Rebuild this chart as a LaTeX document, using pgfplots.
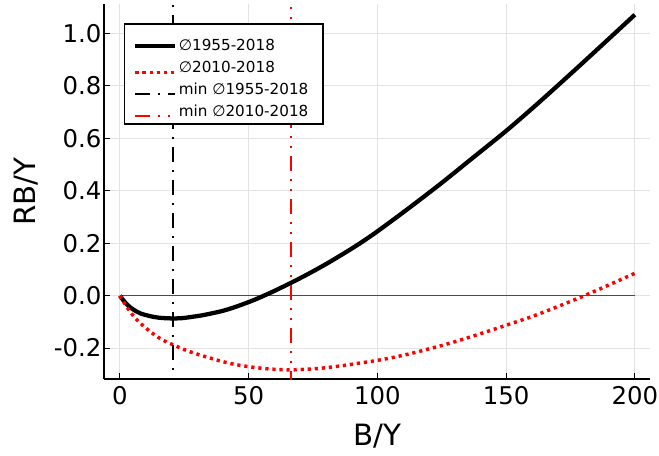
\documentclass[border=0pt]{standalone}
\usepackage{fontspec}
\setmainfont{DejaVu Sans}
\usepackage{pgfplots}
\pgfplotsset{compat=1.18}
\begin{document}
\begin{tikzpicture}
\begin{axis}[
  scale only axis, width=409.5pt, height=281.25pt,
  xmin=-6.2, xmax=205.9, ymin=-0.318, ymax=1.112,
  axis x line*=bottom, axis y line*=left,
  axis line style={line width=1.5pt, black},
  tick align=inside, major tick length=4.5pt,
  tick style={line width=0.8pt, black},
  xtick={0,50,100,150,200},
  ytick={-0.2,0,0.2,0.4,0.6,0.8,1.0},
  grid=major, grid style={line width=0.75pt, black!11},
  /pgf/number format/assume math mode=true,
  yticklabel style={/pgf/number format/fixed, /pgf/number format/precision=1, /pgf/number format/fixed zerofill, xshift=1.6pt},
  xticklabel style={yshift=-2.1pt},
  ticklabel style={font=\fontsize{18.3}{20}\selectfont},
  label style={font=\fontsize{22}{24}\selectfont},
  xlabel={B/Y}, ylabel={RB/Y},
  xlabel style={at={(axis description cs:0.5,-0.152)}, anchor=center},
  ylabel style={at={(axis description cs:-0.1429,0.5)}, anchor=center, rotate=0},
  legend image code/.code={\draw[#1] (0pt,-3.5pt) -- (30pt,-3.5pt);},
  legend cell align=left,
  legend style={at={(axis description cs:0.0366,0.949)}, anchor=north west,
    draw=black, line width=1.1pt, font=\fontsize{11.4}{13}\selectfont,
    inner xsep=6.4pt, inner ysep=4.4pt, row sep=6.2pt,
    nodes={inner sep=0pt},
    /tikz/every odd column/.append style={column sep=1pt}},
]
\addplot[black!70, line width=0.75pt, forget plot] coordinates {(0,0) (200,0)};
\addplot[black, line width=3.2pt, smooth] coordinates {
(0,0) (1,-0.014) (2,-0.026) (3,-0.036) (4,-0.045) (6,-0.058) (8,-0.068) (10,-0.074)
(12.5,-0.080) (15,-0.084) (17.5,-0.086) (20.5,-0.087) (24,-0.086) (28,-0.081) (32,-0.075)
(36,-0.067) (40,-0.058) (44,-0.046) (48,-0.032) (52,-0.017) (56,0) (60,0.018) (66.5,0.049)
(73,0.082) (80,0.12) (87,0.161) (93,0.198) (100,0.245) (112,0.332) (125,0.43) (137,0.525)
(150,0.628) (162,0.73) (175,0.845) (187,0.953) (200,1.071)};
\addlegendentry{\rule[-2.5pt]{0pt}{18.45pt}∅1955-2018}
\addplot[red, line width=2.6pt, smooth, dash pattern=on 2.4pt off 2.9pt] coordinates {
(0,0) (1,-0.017) (2,-0.033) (4,-0.062) (6,-0.086) (8,-0.106) (10,-0.123) (12,-0.139)
(15,-0.160) (18,-0.176) (21,-0.189) (25,-0.206) (30,-0.223) (35,-0.238) (40,-0.252)
(45,-0.263) (50,-0.271) (55,-0.277) (60,-0.281) (66.5,-0.283) (72,-0.281) (78,-0.277)
(85,-0.269) (92,-0.259) (100,-0.247) (108,-0.232) (115,-0.216) (122,-0.198) (128,-0.182)
(135,-0.161) (142,-0.139) (150,-0.113) (160,-0.080) (170,-0.042) (180,-0.002) (190,0.041)
(200,0.085)};
\addlegendentry{\rule[-2.5pt]{0pt}{10.5pt}∅2010-2018}
\addplot[black, line width=1.5pt, dash pattern=on 11.25pt off 6pt on 1.5pt off 6pt] coordinates {(20.5,-1) (20.5,2)};
\addlegendentry{\rule[-2.5pt]{0pt}{10.5pt}min ∅1955-2018\rule{4.5pt}{0pt}}
\addplot[red, line width=1.5pt, dash pattern=on 11.25pt off 6pt on 1.5pt off 6pt on 1.5pt off 6pt] coordinates {(66.5,-1) (66.5,2)};
\addlegendentry{\rule[-2.5pt]{0pt}{10.5pt}min ∅2010-2018\rule{4.5pt}{0pt}}
\end{axis}
\pgfresetboundingbox
\path (-78pt,-57pt) rectangle (416.25pt,284.25pt);
\end{tikzpicture}
\end{document}
